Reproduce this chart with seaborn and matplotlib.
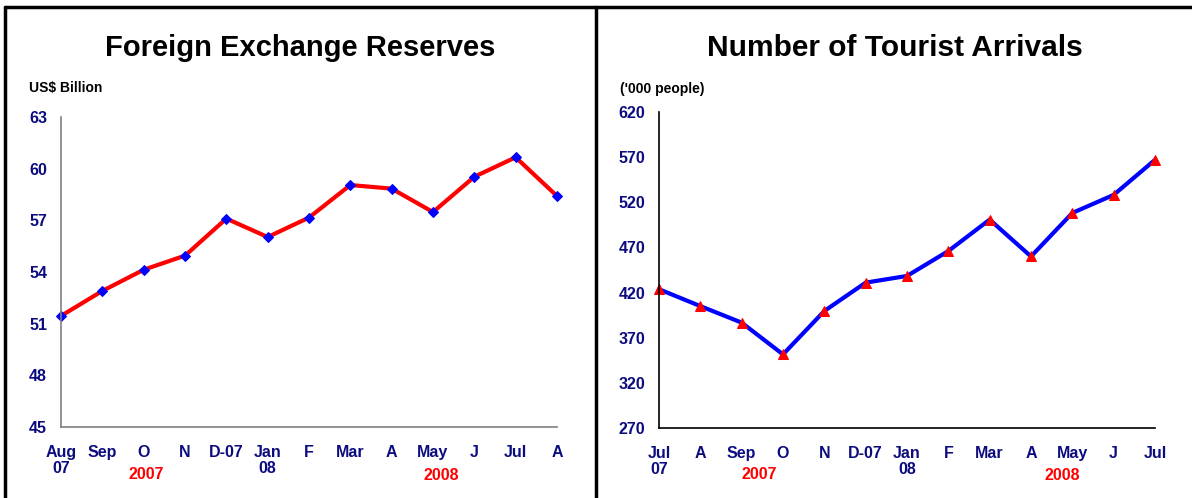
import numpy as np
import pandas as pd
import matplotlib.pyplot as plt
import matplotlib.transforms as mtransforms
import seaborn as sns

# Data
fx_months = ['Aug\n07', 'Sep', 'O', 'N', 'D-07', 'Jan\n08', 'F', 'Mar', 'A', 'May', 'J', 'Jul', 'A']
fx_reserves = [51.45, 52.9, 54.13, 54.95, 57.1, 56.03, 57.16, 59.05, 58.84, 57.48, 59.53, 60.66, 58.41]

tour_months = ['Jul\n07', 'A', 'Sep', 'O', 'N', 'D-07', 'Jan\n08', 'F', 'Mar', 'A', 'May', 'J', 'Jul']
tour_arrivals = [423.7, 405, 386.7, 351.5, 399.6, 431, 438.4, 466, 500.8, 460, 508.2, 528.2, 567]

sns.set_style('white')
plt.rcParams['font.family'] = ['Liberation Sans', 'DejaVu Sans']

NAVY = '#0c0c80'
TICK_FS = 11.5

fig = plt.figure(figsize=(11.92, 4.98), dpi=100)

# panel frame lines
fig.add_artist(plt.Line2D([5 / 1192, 5 / 1192], [0, 1 - 7 / 498], color='black', lw=2.5))
fig.add_artist(plt.Line2D([5 / 1192, 1], [1 - 7 / 498, 1 - 7 / 498], color='black', lw=2.5))
fig.add_artist(plt.Line2D([596 / 1192, 596 / 1192], [0, 1 - 7 / 498], color='black', lw=2.5))

ax1 = fig.add_axes([61 / 1192, 71 / 498, 496 / 1192, 310 / 498])
ax2 = fig.add_axes([659 / 1192, 70 / 498, 496 / 1192, 316 / 498])


def style_axis(ax, labels, ticks, axis_color):
    ax.set_xlim(0, len(labels) - 1)
    ax.set_ylim(ticks[0], ticks[-1])
    ax.set_xticks(range(len(labels)))
    ax.set_xticklabels(labels, fontsize=TICK_FS, fontweight='bold', color=NAVY, linespacing=1.05)
    ax.set_yticks(ticks)
    ax.set_yticklabels([str(t) for t in ticks], fontsize=TICK_FS, fontweight='bold', color=NAVY)
    for side in ['top', 'right']:
        ax.spines[side].set_visible(False)
    for side in ['left', 'bottom']:
        ax.spines[side].set_color(axis_color)
        ax.spines[side].set_linewidth(1.2)
    ax.tick_params(axis='both', direction='out', length=4, width=1.2, color=axis_color)
    ax.tick_params(axis='x', pad=9)
    ax.tick_params(axis='y', pad=6)
    ax.set_xlabel('')
    ax.set_ylabel('')


# Left chart: foreign exchange reserves
sns.lineplot(x=np.arange(len(fx_reserves)), y=fx_reserves, ax=ax1, color='red', lw=3,
             marker='D', markersize=5, markerfacecolor='blue', markeredgecolor='blue', clip_on=False)
style_axis(ax1, fx_months, [45, 48, 51, 54, 57, 60, 63], '#808080')

# Right chart: tourist arrivals
sns.lineplot(x=np.arange(len(tour_arrivals)), y=tour_arrivals, ax=ax2, color='blue', lw=3,
             marker='^', markersize=7.5, markerfacecolor='red', markeredgecolor='red', clip_on=False)
style_axis(ax2, tour_months, [270, 320, 370, 420, 470, 520, 570, 620], 'black')

# titles and units
fig.text(300 / 1192, 1 - 48 / 498, 'Foreign Exchange Reserves', ha='center', va='center',
         fontsize=21, fontweight='bold', color='black')
fig.text(895 / 1192, 1 - 48 / 498, 'Number of Tourist Arrivals', ha='center', va='center',
         fontsize=21.5, fontweight='bold', color='black')
fig.text(29 / 1192, 1 - 88 / 498, 'US$ Billion', ha='left', va='center',
         fontsize=10, fontweight='bold', color='black')
fig.text(620 / 1192, 1 - 89 / 498, "('000 people)", ha='left', va='center',
         fontsize=10, fontweight='bold', color='black')

# year labels under the axis
trans1 = mtransforms.blended_transform_factory(ax1.transData, fig.transFigure)
trans2 = mtransforms.blended_transform_factory(ax2.transData, fig.transFigure)
ax1.text(2.06, 1 - 474 / 498, '2007', transform=trans1, ha='center', va='center',
         fontsize=TICK_FS, fontweight='bold', color='red')
ax1.text(9.19, 1 - 475 / 498, '2008', transform=trans1, ha='center', va='center',
         fontsize=TICK_FS, fontweight='bold', color='red')
ax2.text(2.42, 1 - 474 / 498, '2007', transform=trans2, ha='center', va='center',
         fontsize=TICK_FS, fontweight='bold', color='red')
ax2.text(9.75, 1 - 475 / 498, '2008', transform=trans2, ha='center', va='center',
         fontsize=TICK_FS, fontweight='bold', color='red')

plt.savefig('out.png', dpi=100)
